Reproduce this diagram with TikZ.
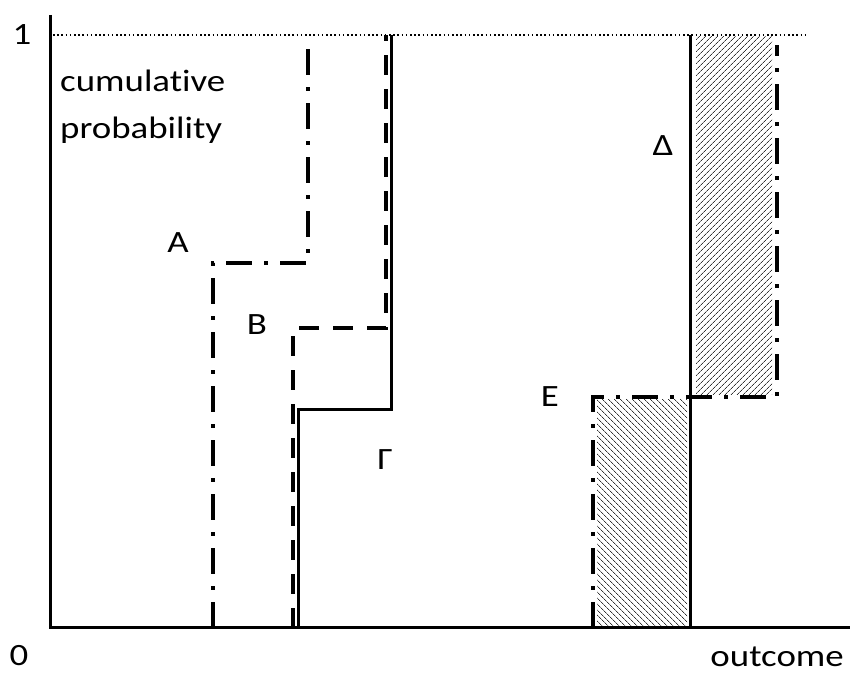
\documentclass[tikz,border=0pt]{standalone}
\usepackage{fontspec}
\setmainfont{Carlito}[FakeStretch=1.19,Ligatures=NoCommon]
\usetikzlibrary{patterns.meta}
\begin{document}
\begin{tikzpicture}[x=1pt,y=1pt,
  lbl/.style={font=\fontsize{31}{47}\selectfont,inner sep=0pt},
  stepA/.style={line width=4pt,dash pattern=on 26pt off 12pt on 4pt off 12pt},
  stepB/.style={line width=4.5pt,dash pattern=on 20pt off 14pt},
  stepG/.style={line width=3pt},
  hatch/.style={pattern={Lines[angle=#1,distance=4pt,line width=0.8pt]},pattern color=black!80}]
\useasboundingbox (0,0) rectangle (852,675);
\fill[hatch=-45] (597,47) rectangle (687,275);
\fill[hatch=45] (696,280) rectangle (772,638);
\draw[line width=1.6pt,dash pattern=on 1.6pt off 2.6pt] (53,640) -- (805,640);
\draw[line width=3pt] (50,660) -- (50,47) -- (850,47);
\draw[stepA] (213,47) -- (213,412) -- (308,412) -- (308,630);
\draw[stepB] (293,47) -- (293,347) -- (386,347) -- (386,640);
\draw[stepG] (298,47) -- (298,265) -- (391,265) -- (391,640);
\draw[stepG] (690,47) -- (690,640);
\draw[stepA] (593,47) -- (593,278) -- (777,278) -- (777,630);
\node[lbl] (one) at (22,640) {1};
\node[lbl] (zero) at (19,19) {0};
\node[lbl,anchor=east] (outcome) at (844,18) {outcome};
\node[lbl,anchor=west,align=left] (cumprob) at (60,568) {cumulative\\probability};
\node[lbl] (A) at (178,432) {A};
\node[lbl] (B) at (257,350) {B};
\node[lbl] (G) at (385,215) {Γ};
\node[lbl] (D) at (663,529) {Δ};
\node[lbl] (E) at (550,278) {E};
\end{tikzpicture}
\end{document}
